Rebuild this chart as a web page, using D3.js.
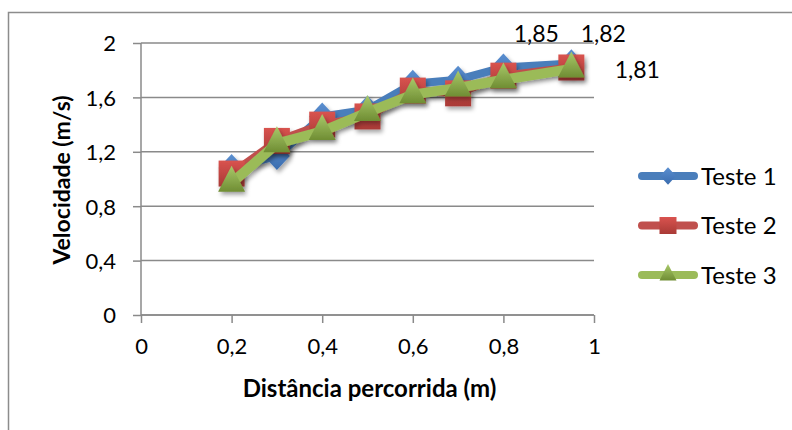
<!DOCTYPE html>
<html>
<head>
<meta charset="utf-8">
<script src="https://cdn.jsdelivr.net/npm/d3@7"></script>
<style>
  html, body { margin: 0; padding: 0; background: #fff; }
  svg { display: block; font-family: Lato, "Open Sans", sans-serif; }
</style>
</head>
<body>
<svg id="chart" width="792" height="430"></svg>
<script>
// Velocidade medida ao longo da distância percorrida, três testes
const distancias = [0.2, 0.3, 0.4, 0.5, 0.6, 0.7, 0.8, 0.95];
const teste1 = [1.08, 1.17, 1.46, 1.51, 1.70, 1.73, 1.82, 1.85];
const teste2 = [1.04, 1.28, 1.40, 1.46, 1.65, 1.63, 1.76, 1.82];
const teste3 = [0.97, 1.26, 1.35, 1.49, 1.62, 1.67, 1.73, 1.81];
const nomesSeries = ["Teste 1", "Teste 2", "Teste 3"];
const ticksX = [0, 0.2, 0.4, 0.6, 0.8, 1];
const ticksY = [0, 0.4, 0.8, 1.2, 1.6, 2];

const fmt = v => String(v).replace(".", ",");

const svg = d3.select("#chart");
const defs = svg.append("defs");

// moldura do gráfico
svg.append("rect")
  .attr("x", 8.5).attr("y", 12.5)
  .attr("width", 800).attr("height", 430)
  .attr("fill", "none").attr("stroke", "#8c8c8c").attr("stroke-width", 1.5);

const x = d3.scaleLinear().domain([0, 1]).range([141, 594]);
const y = d3.scaleLinear().domain([0, 2]).range([315, 43]);

// linhas de grade
svg.append("g").selectAll("line").data(ticksY).join("line")
  .attr("x1", x(0)).attr("x2", x(1))
  .attr("y1", d => y(d)).attr("y2", d => y(d))
  .attr("stroke", "#8a8a8a").attr("stroke-width", 1.5);

// eixos
const gx = svg.append("g").attr("transform", `translate(0,${y(0)})`)
  .call(d3.axisBottom(x).tickValues(ticksX).tickFormat(fmt).tickSize(8).tickPadding(15));
const gy = svg.append("g").attr("transform", `translate(${x(0)},0)`)
  .call(d3.axisLeft(y).tickValues(ticksY).tickFormat(fmt).tickSize(8).tickPadding(17));
[gx, gy].forEach(g => {
  g.select(".domain").attr("stroke", "#8a8a8a").attr("stroke-width", 1.5);
  g.selectAll(".tick line").attr("stroke", "#8a8a8a").attr("stroke-width", 1.5);
  g.selectAll(".tick text").attr("fill", "#000").attr("font-size", 22)
    .attr("font-family", "Lato, sans-serif");
});
gy.select(".domain").attr("d", `M0,${y(2)}V${y(0)}`);
gx.select(".domain").attr("d", `M${x(0)},0H${x(1)}`);
gy.selectAll(".tick text").attr("dy", "0.36em");

// títulos dos eixos
svg.append("text")
  .attr("x", x(0.5) + 2).attr("y", 397)
  .attr("text-anchor", "middle").attr("font-size", 24).attr("font-weight", "bold")
  .text("Distância percorrida (m)");
svg.append("text")
  .attr("transform", `translate(70,${y(1) + 1}) rotate(-90)`)
  .attr("text-anchor", "middle").attr("font-size", 23).attr("font-weight", "bold")
  .text("Velocidade (m/s)");

// sombra dos traçados
const sombra = defs.append("filter").attr("id", "sombra")
  .attr("x", "-20%").attr("y", "-20%").attr("width", "140%").attr("height", "160%");
sombra.append("feDropShadow").attr("dx", 2).attr("dy", 3).attr("stdDeviation", 2)
  .attr("flood-color", "#000").attr("flood-opacity", 0.35);

function gradiente(id, c1, c2) {
  const g = defs.append("linearGradient").attr("id", id)
    .attr("x1", 0).attr("y1", 0).attr("x2", 0).attr("y2", 1);
  g.append("stop").attr("offset", "0%").attr("stop-color", c1);
  g.append("stop").attr("offset", "100%").attr("stop-color", c2);
}
gradiente("gAzul", "#5b8fd0", "#3a6cae");
gradiente("gVermelho", "#d9534f", "#a93a36");
gradiente("gVerde", "#a9c96a", "#6f8d33");

// formatos dos marcadores (tamanho = largura em px)
const losango = { draw(ctx, s) { const w = s / 2, h = s * 0.54;
  ctx.moveTo(0, -h); ctx.lineTo(w, 0); ctx.lineTo(0, h); ctx.lineTo(-w, 0); ctx.closePath(); } };
const quadrado = { draw(ctx, s) { const h = s / 2;
  ctx.rect(-h, -h, s, s); } };
const triangulo = { draw(ctx, s) { const w = s / 2, hh = s * 0.96;
  ctx.moveTo(0, -hh * 2 / 3); ctx.lineTo(w, hh / 3); ctx.lineTo(-w, hh / 3); ctx.closePath(); } };

const series = [
  { nome: nomesSeries[0], valores: teste1, cor: "#4a7ebb", fill: "url(#gAzul)", forma: losango, tam: 26, lw: 8, legTam: 16 },
  { nome: nomesSeries[1], valores: teste2, cor: "#c0504d", fill: "url(#gVermelho)", forma: quadrado, tam: 26, lw: 8, legTam: 17 },
  { nome: nomesSeries[2], valores: teste3, cor: "#9bbb59", fill: "url(#gVerde)", forma: triangulo, tam: 27, lw: 10, legTam: 17 }
];

const linha = d3.line().x(d => x(d[0])).y(d => y(d[1]));

series.forEach(s => {
  const pts = distancias.map((d, i) => [d, s.valores[i]]);
  const g = svg.append("g").attr("filter", "url(#sombra)");
  g.append("path").attr("d", linha(pts))
    .attr("fill", "none").attr("stroke", s.cor).attr("stroke-width", s.lw)
    .attr("stroke-linejoin", "round").attr("stroke-linecap", "round");
  g.selectAll("path.m").data(pts).join("path").attr("class", "m")
    .attr("transform", d => `translate(${x(d[0])},${y(d[1])})`)
    .attr("d", d3.symbol().type(s.forma).size(s.tam))
    .attr("fill", s.fill);
});

// rótulos dos valores finais
const ultimo = distancias.length - 1;
const desloc = [[-35, -21], [32, -25], [66, 9]];
series.forEach((s, i) => {
  svg.append("text")
    .attr("x", x(distancias[ultimo]) + desloc[i][0])
    .attr("y", y(s.valores[ultimo]) + desloc[i][1])
    .attr("text-anchor", "middle").attr("font-size", 23)
    .text(fmt(s.valores[ultimo]));
});

// legenda
const leg = svg.append("g");
series.forEach((s, i) => {
  const ly = 176 + i * 49.5;
  leg.append("line").attr("x1", 642).attr("x2", 694).attr("y1", ly).attr("y2", ly)
    .attr("stroke", s.cor).attr("stroke-width", 8).attr("stroke-linecap", "round");
  leg.append("path").attr("transform", `translate(668,${ly})`)
    .attr("d", d3.symbol().type(s.forma).size(s.legTam)).attr("fill", s.fill);
  leg.append("text").attr("x", 701).attr("y", ly).attr("dy", "0.36em")
    .attr("font-size", 24).text(s.nome);
});
</script>
</body>
</html>
